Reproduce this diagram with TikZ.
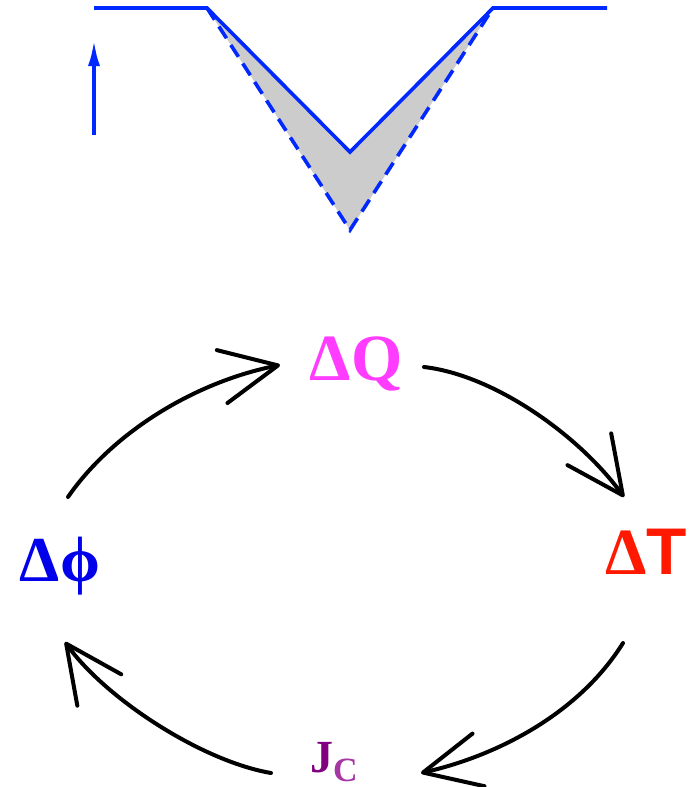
\documentclass[tikz,border=0pt]{standalone}
\usepackage{fontspec}
\setmainfont{Liberation Serif}
\newfontfamily\heavysans{Liberation Sans}
\usetikzlibrary{arrows.meta}
\definecolor{qmagenta}{RGB}{255, 60, 255}
\definecolor{tred}{RGB}{255, 25, 0}
\definecolor{phiblue}{RGB}{0, 0, 235}
\definecolor{lineblue}{RGB}{0, 40, 255}
\definecolor{jpurple}{RGB}{128, 0, 128}
\definecolor{cpurple}{RGB}{165, 55, 165}
\definecolor{wellgray}{RGB}{204, 204, 204}

\begin{document}
\begin{tikzpicture}[x=1pt, y=-1pt,
                lbl/.style={inner sep=0pt,
                anchor=base,
                font=\bfseries},
                cyc/.style={-{Straight Barb[length=57pt, width=54pt, round]},
                black, line width=4pt, line cap=round, line join=round},
                wall/.style={lineblue, line width=3.6pt}]
                \useasboundingbox (0,0) rectangle (694,787);
                \fill[wellgray] (207,8) -- (350,152) -- (493,8) -- (350,230) -- cycle;
                \draw[wall] (94,8) -- (207,8) -- (350,152) -- (493,8) -- (607,8);
                \draw[wall, dash pattern=on 14pt off 8pt] (207,8) -- (350,230) -- (493,8);
                \coordinate (vlow) at (94,135);
                \coordinate (vtop) at (94,40);
                \draw[wall, -{Latex[length=26pt, width=12pt]}] (vlow) -- (vtop);
                \node[lbl, qmagenta] (dQ) at (356,380)
                    {\fontsize{66}{66}\selectfont ΔQ};
                \node[lbl, tred] (dT) at (646,574)
                    {\fontsize{66}{66}\selectfont Δ{\heavysans T}};
                \node[lbl, phiblue] (dphi) at (60,581)
                    {\fontsize{64}{64}\selectfont Δϕ};
                \node[lbl, jpurple] (jc) at (334,772)
                    {\fontsize{46}{46}\selectfont J\raisebox{-9pt}{\fontsize{34}{34}\selectfont\color{cpurple}C}};
                \draw[cyc] ([shift={(8,-84)}]dphi.base)
                    .. controls +(45,-65) and +(-85,17) .. ([shift={(-76,-15)}]dQ.base);
                \draw[cyc] ([shift={(68,-13)}]dQ.base)
                    .. controls +(70,8) and +(-45,-62) .. ([shift={(-22,-77)}]dT.base);
                \draw[cyc] ([shift={(-23,69)}]dT.base)
                    .. controls +(-43,69) and +(79,-18) .. ([shift={(87,1)}]jc.base);
                \draw[cyc] ([shift={(-63,1)}]jc.base)
                    .. controls +(-70,-12) and +(40,56) .. ([shift={(5,61)}]dphi.base);
            \end{tikzpicture}
\end{document}
